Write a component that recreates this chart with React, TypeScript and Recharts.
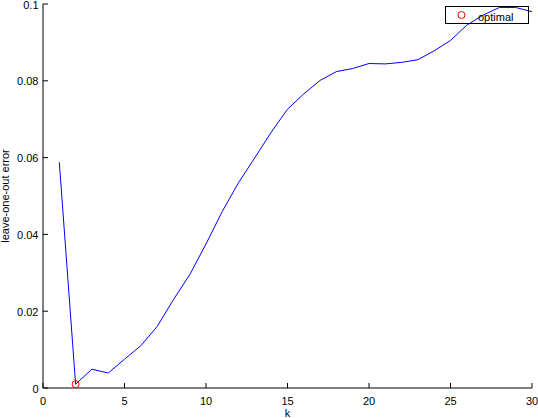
import { ComposedChart, Line, Scatter, XAxis, YAxis, Legend } from "recharts";

if (typeof document !== "undefined") document.body.style.margin = "0";

const kValues = [1, 2, 3, 4, 5, 6, 7, 8, 9, 10, 11, 12, 13, 14, 15, 16, 17, 18, 19, 20, 21, 22, 23, 24, 25, 26, 27, 28, 29, 30];
const looErrors = [
  0.0588, 0.001, 0.0049, 0.0039, 0.0075, 0.011, 0.016, 0.023, 0.0295, 0.0375,
  0.046, 0.0535, 0.06, 0.0666, 0.0726, 0.0766, 0.0801, 0.0824, 0.0832, 0.0845,
  0.0844, 0.0848, 0.0855, 0.0878, 0.0905, 0.0945, 0.0971, 0.0991, 0.0991, 0.098,
];
const optimalK = [2];
const optimalErr = [0.001];
const xTicks = [0, 5, 10, 15, 20, 25, 30];
const yTicks = [0, 0.02, 0.04, 0.06, 0.08, 0.1];

const curve = kValues.map((k, i) => ({ k, err: looErrors[i] }));
const optimal = optimalK.map((k, i) => ({ k, err: optimalErr[i] }));

const W = 538;
const H = 418;
const PLOT_TOP = 4;
const PLOT_BOTTOM = 388;
const PLOT_LEFT = 43;
const PLOT_RIGHT = 532;
const TICK = 5;
const FONT = "'Liberation Sans', Arial, Helvetica, sans-serif";

const fmt = (v: number) => String(Number(v.toFixed(4)));

function BottomTick(p: any) {
  return (
    <g>
      <line x1={p.x} x2={p.x} y1={PLOT_BOTTOM} y2={PLOT_BOTTOM - TICK} stroke="#000" />
      <text x={p.x} y={404.5} textAnchor="middle" fontSize={11} fontFamily={FONT} style={{ fill: "#000" }}>
        {fmt(p.payload.value)}
      </text>
    </g>
  );
}

function TopTick(p: any) {
  return <line x1={p.x} x2={p.x} y1={PLOT_TOP} y2={PLOT_TOP + TICK} stroke="#000" />;
}

function LeftTick(p: any) {
  return (
    <g>
      <line x1={PLOT_LEFT} x2={PLOT_LEFT + TICK} y1={p.y} y2={p.y} stroke="#000" />
      <text x={38.5} y={p.y + 4.5} textAnchor="end" fontSize={11} fontFamily={FONT} style={{ fill: "#000" }}>
        {fmt(p.payload.value)}
      </text>
    </g>
  );
}

function RightTick(p: any) {
  return <line x1={PLOT_RIGHT} x2={PLOT_RIGHT - TICK} y1={p.y} y2={p.y} stroke="#000" />;
}

function OptimalMarker(p: any) {
  return <circle cx={p.cx} cy={p.cy} r={3.5} fill="none" stroke="#ff0000" strokeWidth={1} />;
}

function LegendBox() {
  return (
    <svg width={84} height={18} style={{ display: "block" }}>
      <rect x={0.5} y={0.5} width={83} height={17} fill="none" stroke="#000" />
      <circle cx={16.5} cy={9} r={3.5} fill="none" stroke="#ff0000" />
      <text x={33} y={14.5} fontSize={11} fontFamily={FONT} fill="#000">
        optimal
      </text>
    </svg>
  );
}

const midY = (PLOT_TOP + PLOT_BOTTOM) / 2;

export default function App() {
  return (
    <div style={{ width: W, height: H, background: "#fff" }}>
      <ComposedChart
        width={W}
        height={H}
        margin={{ top: PLOT_TOP, right: W - PLOT_RIGHT, left: 0, bottom: 0 }}
      >
        <XAxis
          xAxisId="bottom"
          dataKey="k"
          type="number"
          domain={[0, 30]}
          ticks={xTicks}
          height={H - PLOT_BOTTOM}
          tickSize={0}
          tick={BottomTick}
          axisLine={{ stroke: "#000" }}
          tickLine={false}
          interval={0}
          allowDataOverflow
          label={{ value: "k", position: "insideBottom", offset: 1, fill: "#000", fontSize: 11, fontFamily: FONT }}
        />
        <XAxis
          xAxisId="top"
          orientation="top"
          type="number"
          domain={[0, 30]}
          ticks={xTicks}
          height={0}
          tickSize={0}
          tick={TopTick}
          axisLine={{ stroke: "#000" }}
          tickLine={false}
          interval={0}
          allowDataOverflow
        />
        <YAxis
          yAxisId="left"
          type="number"
          domain={[0, 0.1]}
          ticks={yTicks}
          width={PLOT_LEFT}
          tickSize={0}
          tick={LeftTick}
          axisLine={{ stroke: "#000" }}
          tickLine={false}
          interval={0}
          allowDataOverflow
          label={() => (
            <text
              x={8.5}
              y={midY}
              transform={`rotate(-90 8.5 ${midY})`}
              textAnchor="middle"
              fontSize={11}
              fontFamily={FONT}
              style={{ fill: "#000" }}
            >
              leave-one-out error
            </text>
          )}
        />
        <YAxis
          yAxisId="right"
          orientation="right"
          type="number"
          domain={[0, 0.1]}
          ticks={yTicks}
          width={0}
          tickSize={0}
          tick={RightTick}
          axisLine={{ stroke: "#000" }}
          tickLine={false}
          interval={0}
          allowDataOverflow
        />
        <Line
          xAxisId="bottom"
          yAxisId="left"
          data={curve}
          dataKey="err"
          type="linear"
          stroke="#0000ff"
          strokeWidth={1}
          dot={false}
          activeDot={false}
          isAnimationActive={false}
          legendType="none"
        />
        <Scatter
          xAxisId="bottom"
          yAxisId="left"
          data={optimal}
          dataKey="err"
          name="optimal"
          shape={OptimalMarker}
          isAnimationActive={false}
        />
        <Legend
          layout="vertical"
          align="center"
          verticalAlign="middle"
          content={LegendBox}
          wrapperStyle={{ position: "absolute", top: 6, left: 445, width: 84, height: 18 }}
        />
      </ComposedChart>
    </div>
  );
}
